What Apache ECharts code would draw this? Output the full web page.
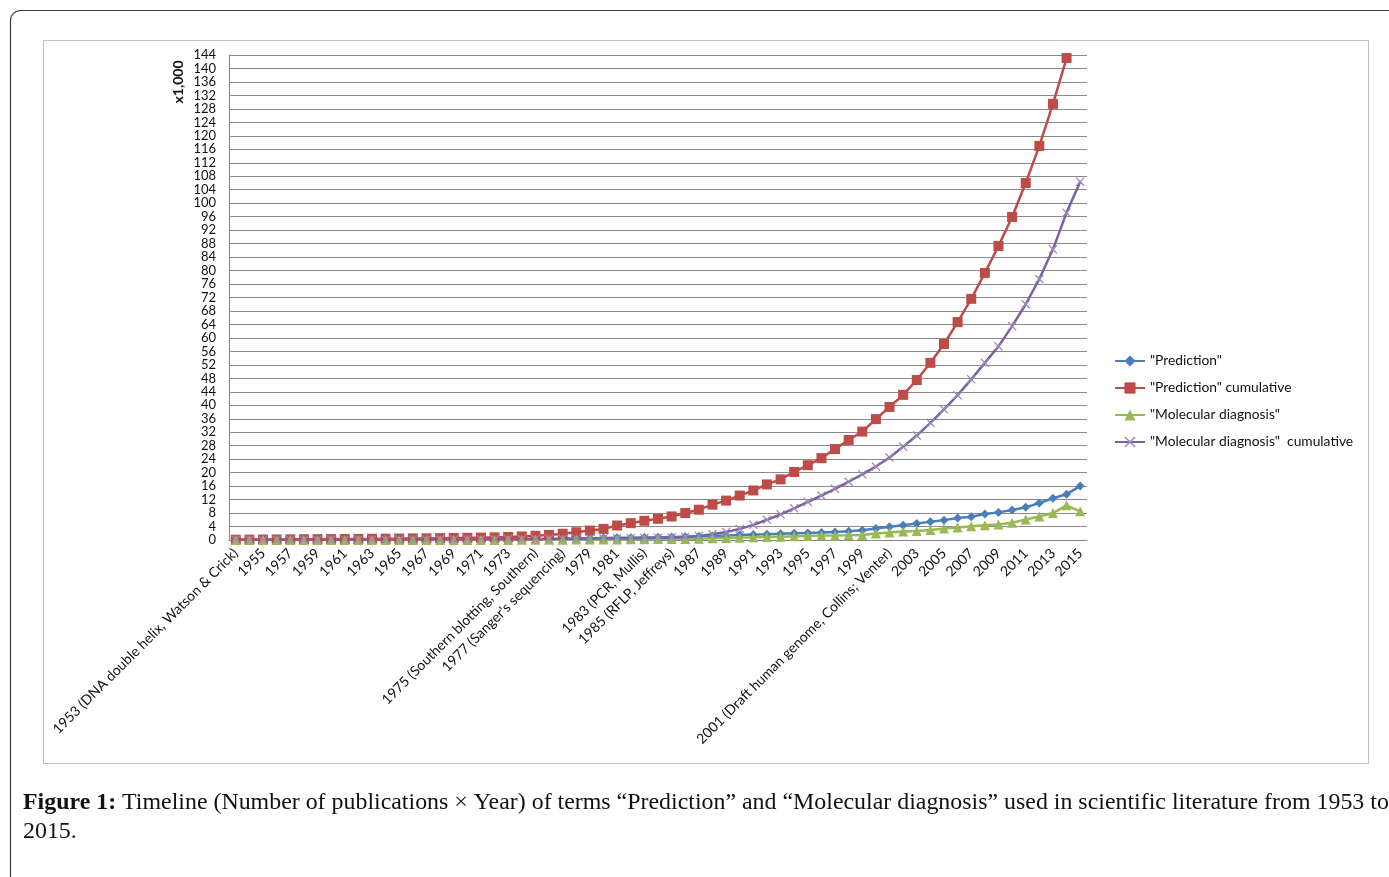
<!DOCTYPE html>
<html>
<head>
<meta charset="utf-8">
<script src="https://cdn.jsdelivr.net/npm/echarts@6/dist/echarts.min.js"></script>
<style>
html,body{margin:0;padding:0;background:#fff;}
#chart{width:1389px;height:877px;}
</style>
</head>
<body>
<div id="chart"></div>
<script>
// ---- data (values in thousands) ----
const years = [];
for (let y = 1953; y <= 2015; y++) years.push(y);
const annotations = {
  1953: '1953 (DNA double helix, Watson & Crick)',
  1975: '1975 (Southern blotting, Southern)',
  1977: "1977 (Sanger's sequencing)",
  1983: '1983 (PCR, Mullis)',
  1985: '1985 (RFLP, Jeffreys)',
  2001: '2001 (Draft human genome, Collins; Venter)'
};
const categories = years.map(y => annotations[y] || String(y));

const seriesNames = ['"Prediction"', '"Prediction" cumulative', '"Molecular diagnosis"', '"Molecular diagnosis"  cumulative'];

// "Prediction" per year
const prediction = [
  0.02,0.02,0.03,0.03,0.03,0.03,0.03,0.03,0.04,0.04,
  0.04,0.05,0.05,0.05,0.06,0.06,0.07,0.08,0.10,0.12,
  0.15,0.20,0.25,0.30,0.40,0.45,0.55,0.60,0.65,0.70,
  0.75,0.80,0.90,1.00,1.10,1.20,1.35,1.50,1.60,1.70,
  1.85,2.00,2.10,2.20,2.40,2.60,2.90,3.40,3.90,4.40,
  4.90,5.40,5.90,6.50,6.90,7.70,8.20,8.90,9.70,11.0,
  12.4,13.6,16.0
];
// "Prediction" cumulative
const predictionCum = [
  0.10,0.12,0.15,0.17,0.20,0.22,0.25,0.27,0.30,0.33,
  0.36,0.40,0.43,0.47,0.50,0.55,0.60,0.65,0.72,0.80,
  0.90,1.05,1.25,1.50,1.85,2.30,2.80,3.30,4.30,5.00,
  5.70,6.30,7.00,8.00,9.00,10.5,11.7,13.2,14.7,16.5,
  18.0,20.2,22.2,24.3,27.0,29.7,32.2,35.9,39.5,43.1,
  47.5,52.6,58.2,64.7,71.6,79.3,87.3,95.9,106.0,117.0,
  129.5,143.1,null
];
// "Molecular diagnosis" per year
const molecular = [
  0.00,0.00,0.00,0.00,0.00,0.00,0.00,0.00,0.00,0.00,
  0.00,0.00,0.01,0.01,0.01,0.01,0.02,0.02,0.02,0.03,
  0.03,0.04,0.05,0.08,0.10,0.12,0.14,0.16,0.18,0.20,
  0.23,0.26,0.30,0.33,0.40,0.50,0.60,0.70,0.80,0.90,
  1.00,1.10,1.20,1.30,1.35,1.40,1.50,1.90,2.20,2.50,
  2.70,3.00,3.40,3.70,4.10,4.40,4.60,5.10,6.10,7.00,
  8.00,10.3,8.50
];
// "Molecular diagnosis" cumulative
const molecularCum = [
  0.05,0.05,0.06,0.06,0.07,0.07,0.08,0.08,0.09,0.10,
  0.10,0.11,0.12,0.13,0.14,0.15,0.16,0.18,0.20,0.22,
  0.25,0.28,0.30,0.33,0.36,0.40,0.43,0.47,0.50,0.55,
  0.60,0.65,0.75,0.90,1.20,1.70,2.40,3.30,4.50,6.00,
  7.60,9.40,11.3,13.2,15.2,17.3,19.5,21.8,24.5,27.7,
  31.0,34.8,38.8,43.0,47.7,52.6,57.5,63.5,70.0,77.5,
  86.3,97.2,106.4
];

const yMin = 0, yMax = 144, yStep = 4;

// ---- chart ----
const FONT = 'Lato, "Open Sans", sans-serif';
const crossPath = 'path://M0,1 L1,0 L5,4 L9,0 L10,1 L6,5 L10,9 L9,10 L5,6 L1,10 L0,9 L4,5 Z';

const chart = echarts.init(document.getElementById('chart'), null, {renderer: 'canvas'});
const option = {
  backgroundColor: '#ffffff',
  animation: false,
  textStyle: {fontFamily: FONT},
  grid: {left: 229, top: 55, width: 858, height: 485, containLabel: false},
  legend: {
    orient: 'vertical',
    left: 1114,
    top: 354,
    padding: 0,
    itemWidth: 30,
    itemHeight: 14,
    itemGap: 13,
    textStyle: {fontFamily: FONT, fontSize: 13.8, color: '#111'},
    data: seriesNames
  },
  xAxis: {
    type: 'category',
    data: categories,
    boundaryGap: true,
    axisLine: {lineStyle: {color: '#868686', width: 1}},
    axisTick: {show: false},
    axisLabel: {
      interval: 1,
      rotate: 45,
      margin: 11,
      fontFamily: FONT,
      fontSize: 14,
      color: '#111'
    },
    splitLine: {show: false}
  },
  yAxis: {
    type: 'value',
    min: yMin,
    max: yMax,
    interval: yStep,
    axisLine: {show: true, lineStyle: {color: '#868686', width: 1}},
    axisTick: {show: false},
    axisLabel: {fontFamily: FONT, fontSize: 13, color: '#111', margin: 13},
    splitLine: {lineStyle: {color: '#8a8a8a', width: 1}}
  },
  series: [
    {
      name: seriesNames[0], type: 'line', data: prediction,
      symbol: 'diamond', symbolSize: 9, showAllSymbol: true,
      lineStyle: {color: '#4a7ebb', width: 2.5},
      itemStyle: {color: '#4a7ebb'}
    },
    {
      name: seriesNames[1], type: 'line', data: predictionCum,
      symbol: 'rect', symbolSize: 10, showAllSymbol: true,
      lineStyle: {color: '#be4b48', width: 2.5},
      itemStyle: {color: '#be4b48'}
    },
    {
      name: seriesNames[2], type: 'line', data: molecular,
      symbol: 'triangle', symbolSize: 10, showAllSymbol: true,
      lineStyle: {color: '#98b954', width: 2.5},
      itemStyle: {color: '#98b954'}
    },
    {
      name: seriesNames[3], type: 'line', data: molecularCum,
      symbol: crossPath, symbolSize: 9, showAllSymbol: true,
      lineStyle: {color: '#7d60a0', width: 2.5},
      itemStyle: {color: '#9b88b8'}
    }
  ],
  graphic: [
    {
      type: 'rect', z: -10, silent: true,
      shape: {x: 10.5, y: 10.5, width: 1420, height: 920, r: 10},
      style: {fill: 'none', stroke: '#3a3a3a', lineWidth: 1.2}
    },
    {
      type: 'rect', z: -9, silent: true,
      shape: {x: 43.5, y: 40.5, width: 1325, height: 723},
      style: {fill: 'none', stroke: '#c0c0c0', lineWidth: 1}
    },
    {
      type: 'text', silent: true,
      x: 178, y: 82, rotation: Math.PI / 2,
      style: {
        text: 'x1,000', fontFamily: FONT, fontSize: 14, fontWeight: 'bold',
        fill: '#111', align: 'center', verticalAlign: 'middle'
      }
    },
    {
      type: 'text', silent: true,
      x: 23, y: 788,
      style: {
        text: '{b|Figure 1:} Timeline (Number of publications \u00d7 Year) of terms \u201cPrediction\u201d and \u201cMolecular diagnosis\u201d used in scientific literature from 1953 to\n2015.',
        fontFamily: '"Liberation Serif", "DejaVu Serif", serif',
        fontSize: 23.9, lineHeight: 29, fill: '#111',
        rich: {
          b: {fontFamily: '"Liberation Serif", serif', fontSize: 23.9, fontWeight: 'bold', fill: '#111', lineHeight: 29}
        }
      }
    }
  ]
};
chart.setOption(option);
</script>
</body>
</html>
